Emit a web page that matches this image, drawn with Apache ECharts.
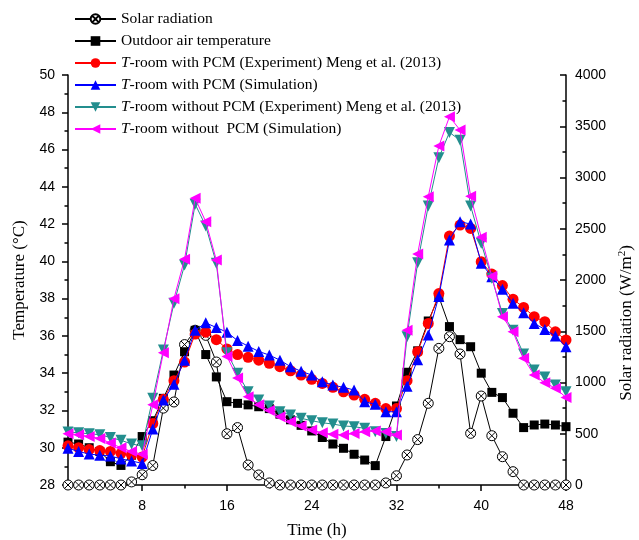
<!DOCTYPE html>
<html><head><meta charset="utf-8">
<script src="https://cdn.jsdelivr.net/npm/echarts@6/dist/echarts.min.js"></script>
<style>html,body{margin:0;padding:0;background:#fff}#c{width:639px;height:540px}</style>
</head><body><div id="c"></div>
<script>
const hours = [1,2,3,4,5,6,7,8,9,10,11,12,13,14,15,16,17,18,19,20,21,22,23,24,25,26,27,28,29,30,31,32,33,34,35,36,37,38,39,40,41,42,43,44,45,46,47,48];
const solarRadiation = [0,0,0,0,0,0,30,100,190,750,810,1370,1510,1460,1200,500,560,195,98,20,0,0,0,0,0,0,0,0,0,0,20,90,293,443,797,1333,1447,1278,504,868,481,276,130,0,0,0,0,0];
const outdoorTemp = [30.3,30.2,30.0,29.8,29.25,29.05,29.6,30.6,31.45,32.65,33.9,35.15,36.3,35.0,33.8,32.47,32.38,32.3,32.2,32.1,31.8,31.5,31.2,30.9,30.55,30.2,29.97,29.65,29.34,29.04,30.6,32.24,34.05,35.2,36.8,38.1,36.5,35.8,35.42,34.0,32.97,32.69,31.85,31.08,31.22,31.27,31.22,31.13];
const pcmExperiment = [30.1,30.0,29.9,29.85,29.8,29.7,29.6,29.5,31.3,32.6,33.6,34.6,36.1,36.2,35.8,35.3,35.0,34.85,34.7,34.53,34.35,34.13,33.9,33.67,33.45,33.24,33.0,32.83,32.6,32.38,32.1,32.1,33.6,35.15,36.67,38.27,41.36,41.95,41.77,39.98,39.32,38.7,37.97,37.53,37.03,36.76,36.22,35.78];
const pcmSimulation = [29.97,29.8,29.66,29.6,29.56,29.4,29.29,29.16,31.0,32.56,33.4,34.7,36.3,36.7,36.45,36.2,35.75,35.45,35.17,34.97,34.7,34.35,34.1,33.9,33.54,33.36,33.24,33.1,32.47,32.33,31.93,31.93,33.3,34.72,36.05,38.12,41.14,42.13,42.0,39.9,39.17,38.5,37.75,37.24,36.67,36.35,35.99,35.42];
const noPcmExperiment = [30.85,30.8,30.75,30.7,30.55,30.4,30.2,30.1,32.65,35.24,37.75,39.8,43.07,41.9,39.9,35.1,34.0,33.0,32.56,32.24,31.93,31.76,31.58,31.45,31.34,31.27,31.17,31.13,31.04,30.86,30.77,30.6,35.96,39.93,42.97,45.56,46.92,46.5,42.97,40.97,39.1,37.2,36.3,35.03,34.17,33.8,33.36,33.0];
const noPcmSimulation = [30.75,30.7,30.6,30.5,30.25,30.0,29.8,29.65,32.3,35.1,38.0,40.12,43.38,42.13,40.07,34.9,33.74,32.74,32.3,32.0,31.66,31.4,31.17,30.95,30.8,30.72,30.68,30.77,30.86,30.9,30.86,30.68,36.3,40.39,43.47,46.19,47.76,47.05,43.5,41.3,39.2,37.03,36.22,34.8,33.9,33.49,33.19,32.7];
const xTickValues = [8,16,24,32,40,48];
const xMinorTickValues = [4,12,20,28,36,44];
const seriesNames = ['Solar radiation','Outdoor air temperature','T-room with PCM (Experiment) Meng et al. (2013)','T-room with PCM (Simulation)','T-room without PCM (Experiment) Meng et al. (2013)','T-room without  PCM (Simulation)'];

const SERIF = 'Liberation Serif';
const SANS = 'Liberation Sans';
const crossCircle = 'path://M0,-10A10,10 0 1,1 0,10A10,10 0 1,1 0,-10ZM-7.07,-7.07L7.07,7.07M7.07,-7.07L-7.07,7.07';
const pair = arr => hours.map((h,i)=>[h, arr[i]]);

const chart = echarts.init(document.getElementById('c'), null, {renderer:'canvas'});
const axisLineStyle = {color:'#000', width:1.5};
chart.setOption({
  animation:false,
  backgroundColor:'#fff',
  grid:{left:68, right:73, top:75, bottom:55, containLabel:false, outerBoundsMode:'none'},
  legend:{
    orient:'vertical', left:69, top:5, itemWidth:41, itemHeight:12, itemGap:4,
    data:seriesNames,
    textStyle:{fontFamily:SERIF, fontSize:15.5, lineHeight:18, color:'#000',
      rich:{i:{fontFamily:SERIF, fontSize:15.5, fontStyle:'italic', color:'#000'}, n:{fontFamily:SERIF, fontSize:15.5, color:'#000'}}},
    formatter:function(name){ return name.indexOf('T-')===0 ? '{i|T}{n|'+name.slice(1)+'}' : name; }
  },
  xAxis:[{
    type:'value', min:1, max:48, position:'bottom',
    name:'Time (h)', nameLocation:'middle', nameGap:37,
    nameTextStyle:{fontFamily:SERIF, fontSize:17, color:'#000'},
    axisLine:{show:true, lineStyle:axisLineStyle},
    axisTick:{show:true, inside:false, length:6, customValues:xTickValues, lineStyle:{color:'#000', width:1.5}},
    axisLabel:{show:true, customValues:xTickValues, margin:14, fontFamily:SANS, fontSize:14, color:'#000'},
    splitLine:{show:false}
  },{
    type:'value', min:1, max:48, position:'bottom', gridIndex:0,
    axisLine:{show:false},
    axisTick:{show:true, inside:false, length:3.5, customValues:xMinorTickValues, lineStyle:{color:'#000', width:1.5}},
    axisLabel:{show:false},
    splitLine:{show:false}
  }],
  yAxis:[{
    type:'value', min:28, max:50, interval:2, position:'left',
    name:'Temperature (°C)', nameLocation:'middle', nameGap:35,
    nameTextStyle:{fontFamily:SERIF, fontSize:17, color:'#000'},
    axisLine:{show:true, lineStyle:axisLineStyle},
    axisTick:{show:true, inside:false, length:6, lineStyle:{color:'#000', width:1.5}},
    minorTick:{show:true, splitNumber:2, length:3.5, lineStyle:{color:'#000', width:1.5}},
    axisLabel:{margin:13, fontFamily:SANS, fontSize:14, color:'#000'},
    splitLine:{show:false}
  },{
    type:'value', min:0, max:4000, interval:500, position:'right',
    name:'Solar radiation (W/m{sup|2})', nameLocation:'middle', nameGap:43,
    nameTextStyle:{fontFamily:SERIF, fontSize:17, color:'#000', padding:[0,86,0,0],
      rich:{sup:{fontFamily:SERIF, fontSize:11, color:'#000', verticalAlign:'top', padding:[0,0,8,0]}}},
    axisLine:{show:true, lineStyle:axisLineStyle},
    axisTick:{show:true, inside:true, length:6, lineStyle:{color:'#000', width:1.5}},
    minorTick:{show:true, splitNumber:2, length:3.5, lineStyle:{color:'#000', width:1.5}},
    axisLabel:{margin:9, fontFamily:SANS, fontSize:14, color:'#000', formatter:function(v){return String(v);}},
    splitLine:{show:false}
  }],
  series:[
    {name:seriesNames[0], type:'line', yAxisIndex:1, data:pair(solarRadiation), symbol:crossCircle, symbolSize:10,
      itemStyle:{color:'#fff', borderColor:'#000', borderWidth:1}, lineStyle:{color:'#000', width:1}, z:3},
    {name:seriesNames[1], type:'line', yAxisIndex:0, data:pair(outdoorTemp), symbol:'rect', symbolSize:9,
      itemStyle:{color:'#000'}, lineStyle:{color:'#000', width:1}, z:3},
    {name:seriesNames[2], type:'line', yAxisIndex:0, data:pair(pcmExperiment), symbol:'circle', symbolSize:11,
      itemStyle:{color:'#ff0000'}, lineStyle:{color:'#ff0000', width:1}, z:4},
    {name:seriesNames[3], type:'line', yAxisIndex:0, data:pair(pcmSimulation), symbol:'triangle', symbolSize:11,
      itemStyle:{color:'#0000ff'}, lineStyle:{color:'#0000ff', width:1}, z:5},
    {name:seriesNames[4], type:'line', yAxisIndex:0, data:pair(noPcmExperiment), symbol:'triangle', symbolRotate:180, symbolSize:11,
      itemStyle:{color:'#238e8e'}, lineStyle:{color:'#238e8e', width:1}, z:6},
    {name:seriesNames[5], type:'line', yAxisIndex:0, data:pair(noPcmSimulation), symbol:'triangle', symbolRotate:90, symbolSize:11,
      itemStyle:{color:'#ff00ff'}, lineStyle:{color:'#ff00ff', width:1}, z:7}
  ]
});
</script>
</body></html>
